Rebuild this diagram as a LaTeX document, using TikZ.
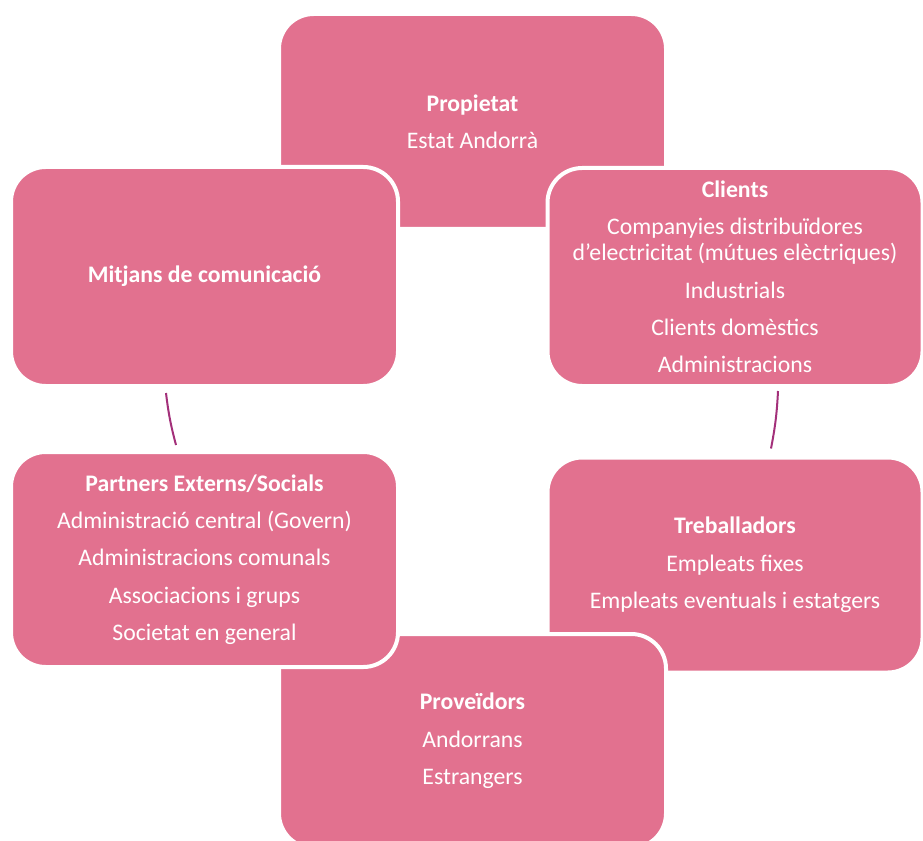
\documentclass[tikz,border=0pt]{standalone}
\usepackage{fontspec}
\setmainfont{Carlito}
\definecolor{boxpink}{HTML}{E2718F}
\definecolor{arcpurple}{HTML}{A3307A}
\begin{document}
\begin{tikzpicture}[x=0.75pt,y=-0.75pt,
  box/.style={fill=boxpink, draw=white, line width=3pt, rounded corners=26pt,
    text=white, align=center, inner sep=0pt,
    font=\fontsize{17.8pt}{19.5pt}\selectfont},
  arc/.style={draw=arcpurple, line width=1.5pt}]
\useasboundingbox (0,0) rectangle (923,841);
\node[box, minimum width=387*0.75pt, minimum height=215*0.75pt] (prop) at (472.5,121.5)
  {\textbf{Propietat}\\[8.5pt]Estat Andorrà};
\node[box, minimum width=375*0.75pt, minimum height=215*0.75pt] (treb) at (735,565)
  {\textbf{Treballadors}\\[8.5pt]Empleats fixes\\[8.5pt]Empleats eventuals i estatgers};
\node[box, minimum width=387*0.75pt, minimum height=214*0.75pt] (prov) at (472.5,741)
  {\textbf{Proveïdors}\\[8.5pt]Andorrans\\[8.5pt]Estrangers};
\node[box, minimum width=387*0.75pt, minimum height=215*0.75pt] (part) at (204.5,559.5)
  {\textbf{Partners Externs/Socials}\\[8.5pt]Administració central (Govern)\\[8.5pt]Administracions comunals\\[8.5pt]Associacions i grups\\[8.5pt]Societat en general};
\node[box, minimum width=387*0.75pt, minimum height=219*0.75pt] (mitj) at (204.5,276.5)
  {\textbf{Mitjans de comunicació}};
\node[box, minimum width=375*0.75pt, minimum height=218*0.75pt] (cli) at (735,277)
  {\textbf{Clients}\\[8.5pt]Companyies distribuïdores\\d’electricitat (mútues elèctriques)\\[8.5pt]Industrials\\[8.5pt]Clients domèstics\\[8.5pt]Administracions};
\coordinate (l1) at ([shift={(-38.5,5)}]mitj.south);
\coordinate (l2) at ([shift={(-28.5,-5)}]part.north);
\coordinate (r1) at ([shift={(43,3)}]cli.south);
\coordinate (r2) at ([shift={(36,-7)}]treb.north);
\draw[arc] (l1) to[bend right=4] (l2);
\draw[arc] (r1) to[bend left=4] (r2);
\end{tikzpicture}
\end{document}
